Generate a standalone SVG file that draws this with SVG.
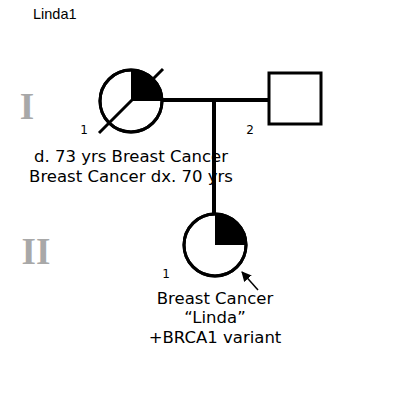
<svg xmlns="http://www.w3.org/2000/svg" width="400" height="400" viewBox="0 0 400 400">
<style>
.sym{fill:#fff;stroke:#000;stroke-width:3}
.fill{fill:#000;stroke:none}
.line{stroke:#000;stroke-width:4;fill:none}
.lbl{font-family:"DejaVu Sans",Verdana,sans-serif;font-size:16.5px;fill:#000;text-anchor:middle}
.num{font-family:"DejaVu Sans",Verdana,sans-serif;font-size:12px;fill:#000;text-anchor:middle}
.gen{font-family:"Liberation Serif","Times New Roman",serif;font-weight:bold;font-size:37px;fill:#a8a8a8;text-anchor:middle}
</style>
<defs>
<marker id="ah" markerWidth="10" markerHeight="10" refX="9" refY="5" orient="auto" markerUnits="userSpaceOnUse">
<path d="M0,0 L10,5 L0,10 z" fill="#000"/>
</marker>
</defs>
<text x="33" y="19" font-family="Liberation Sans,Arial,sans-serif" font-size="14.5">Linda1</text>
<text class="gen" x="27" y="119">I</text>
<text class="gen" x="36" y="264">II</text>
<g id="connectors">
<line class="line" x1="162" y1="100" x2="269" y2="100"/>
<line class="line" x1="214" y1="100" x2="214" y2="214" stroke-width="3"/>
<line x1="258" y1="290" x2="242" y2="272" stroke="#000" stroke-width="1.5" marker-end="url(#ah)"/>
</g>
<g id="I-1">
<circle class="sym" cx="131" cy="101" r="31"/>
<path class="fill" d="M131,101 L131,70 A31,31 0 0 1 162,101 Z"/>
<circle cx="131" cy="101" r="31" fill="none" stroke="#000" stroke-width="3"/>
<line x1="99" y1="133" x2="163" y2="69" stroke="#000" stroke-width="3"/>
<text class="num" x="84" y="134">1</text>
<text class="lbl" x="131" y="162">d. 73 yrs Breast Cancer</text>
<text class="lbl" x="131" y="182">Breast Cancer dx. 70 yrs</text>
</g>
<g id="I-2">
<rect class="sym" x="269" y="73" width="52" height="51"/>
<text class="num" x="250" y="134">2</text>
</g>
<g id="II-1">
<circle class="sym" cx="215" cy="245" r="31"/>
<path class="fill" d="M215,245 L215,214 A31,31 0 0 1 246,245 Z"/>
<circle cx="215" cy="245" r="31" fill="none" stroke="#000" stroke-width="3"/>
<text class="num" x="166" y="278">1</text>
<text class="lbl" x="215" y="304">Breast Cancer</text>
<text class="lbl" x="215" y="323">“Linda”</text>
<text class="lbl" x="215" y="343">+BRCA1 variant</text>
</g>
</svg>
